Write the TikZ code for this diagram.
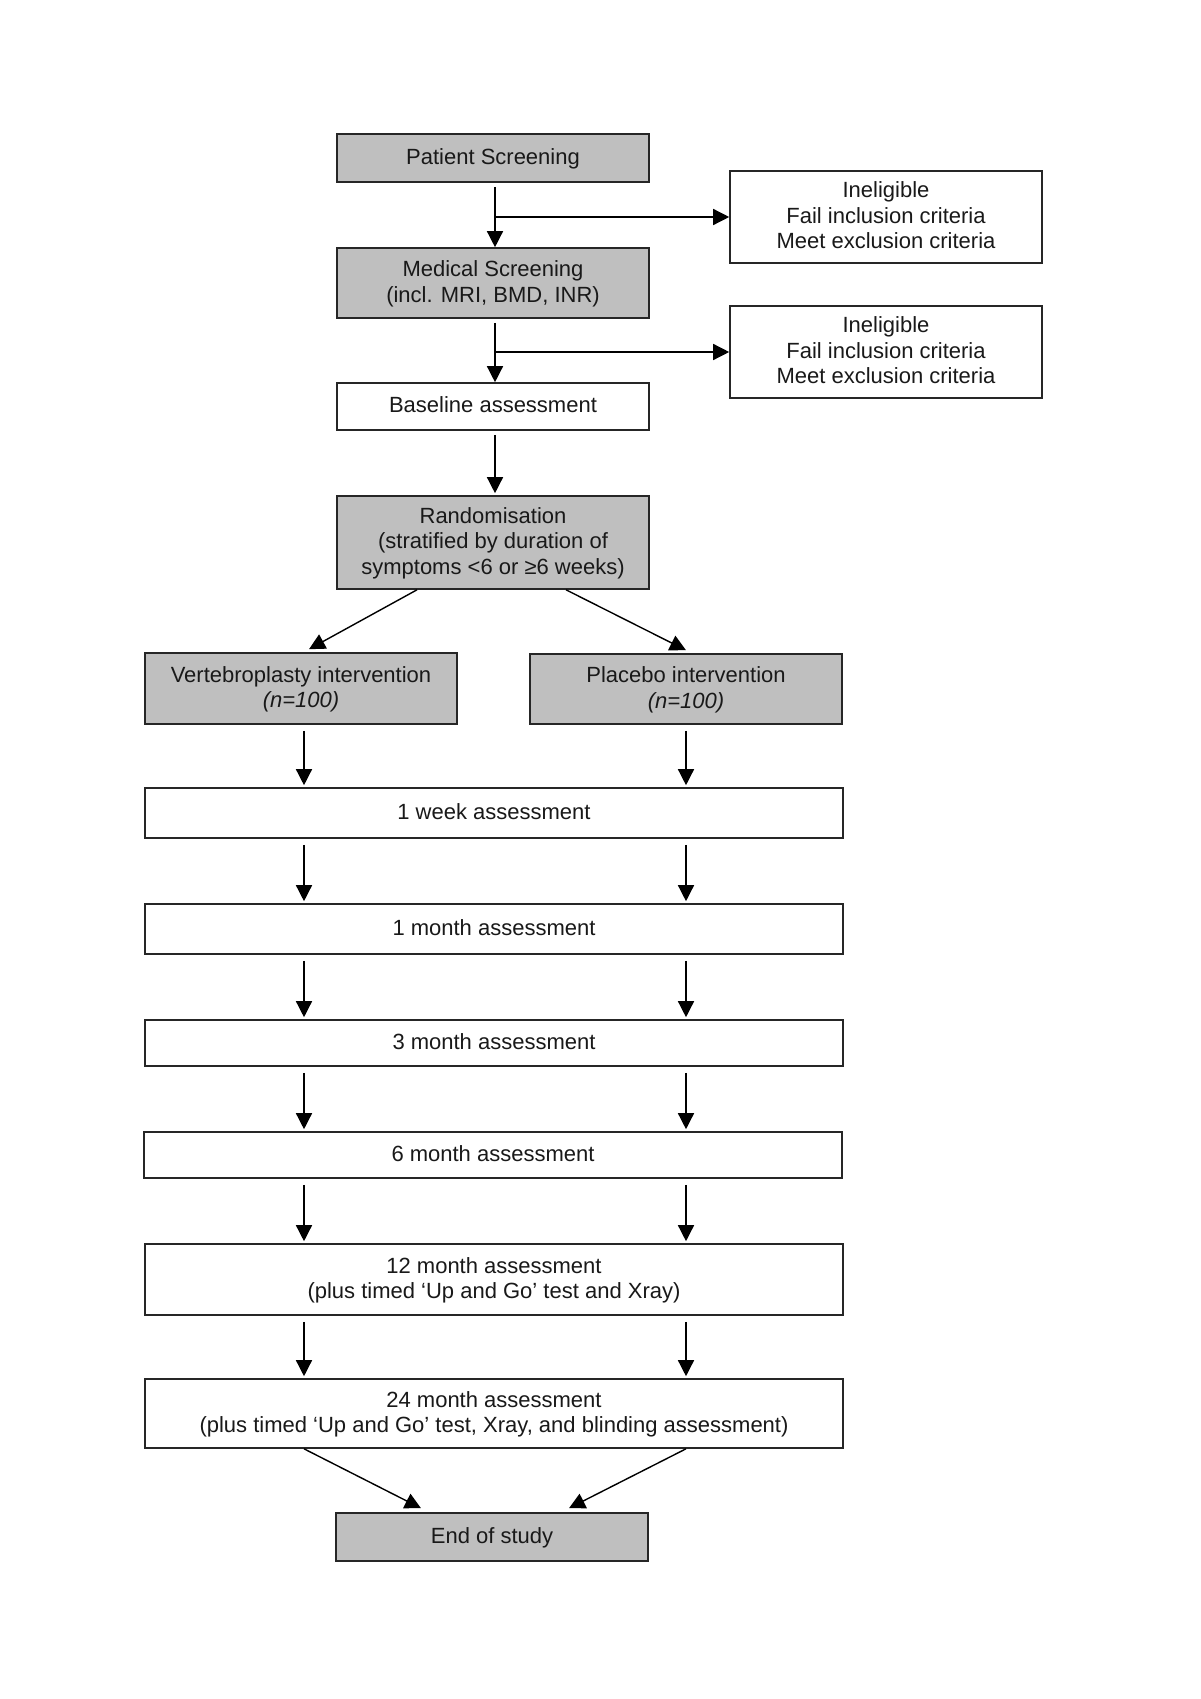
\documentclass[tikz,border=0pt]{standalone}
\usepackage{fontspec}
\setmainfont{Liberation Sans}
\usetikzlibrary{arrows.meta,calc}
\begin{document}
\begin{tikzpicture}[x=1pt,y=-1pt,
  box/.style={draw=black!85,line width=1.6pt,align=center,inner sep=0pt,
    font=\fontsize{22}{25.5}\selectfont,text=black!90,text depth=3pt},
  narrow/.style={box,minimum width=312pt},
  wide/.style={box,minimum width=698pt},
  grey/.style={fill=black!25},
  arr/.style={line width=1.4pt,-{Triangle[length=16pt,width=16pt]}}]
\useasboundingbox[fill=white] (0,0) rectangle (1200,1699);
\node[narrow,grey,minimum height=48pt] (ps) at (493,158) {Patient Screening};
\node[narrow,minimum height=92pt] (in1) at (886,217) {Ineligible\\Fail inclusion criteria\\Meet exclusion criteria};
\node[narrow,grey,minimum height=70pt] (ms) at (493,283) {Medical Screening\\(incl. MRI, BMD, INR)};
\node[narrow,minimum height=92pt] (in2) at (886,352) {Ineligible\\Fail inclusion criteria\\Meet exclusion criteria};
\node[narrow,minimum height=47pt] (ba) at (493,406.5) {Baseline assessment};
\node[narrow,grey,minimum height=93pt] (ra) at (493,542.5) {Randomisation\\(stratified by duration of\\symptoms {<}6 or ≥6 weeks)};
\node[narrow,grey,minimum height=71pt] (ve) at (301,688.5) {Vertebroplasty intervention\\\textit{(n=100)}};
\node[narrow,grey,minimum height=70pt] (pl) at (686,689) {Placebo intervention\\\textit{(n=100)}};
\node[wide,minimum height=50pt] (w1) at (494,813) {1 week assessment};
\node[wide,minimum height=50pt] (m1) at (494,929) {1 month assessment};
\node[wide,minimum height=46pt] (m3) at (494,1043) {3 month assessment};
\node[wide,minimum height=46pt] (m6) at (493,1155) {6 month assessment};
\node[wide,minimum height=71pt] (m12) at (494,1279.5) {12 month assessment\\(plus timed ‘Up and Go’ test and Xray)};
\node[wide,minimum height=69pt] (m24) at (494,1413.5) {24 month assessment\\(plus timed ‘Up and Go’ test, Xray, and blinding assessment)};
\node[narrow,grey,minimum height=48pt] (end) at (492,1537) {End of study};
\coordinate (L) at (304,0);
\coordinate (R) at (686,0);
\coordinate (C) at (495,0);
% top chain
\draw[arr,shorten <=4pt] (ps.south -| C) -- (ms.north -| C);
\draw[arr] (C |- in1.west) -- (in1.west);
\draw[arr,shorten <=4pt] (ms.south -| C) -- (ba.north -| C);
\draw[arr] (C |- in2.west) -- (in2.west);
\draw[arr,shorten <=4pt,shorten >=2pt] (ba.south -| C) -- (ra.north -| C);
% randomisation split
\draw[arr] ([xshift=-76pt]ra.south) -- ([xshift=8pt,yshift=3pt]ve.north);
\draw[arr] ([xshift=73pt]ra.south) -- ([yshift=3pt]pl.north);
% parallel arms
\foreach \a/\b in {ve/w1,w1/m1,m1/m3,m3/m6,m6/m12,m12/m24}{
  \draw[arr,shorten <=6pt,shorten >=2pt] (\a.south -| L) -- (\b.north -| L);
}
\foreach \a/\b in {pl/w1,w1/m1,m1/m3,m3/m6,m6/m12,m12/m24}{
  \draw[arr,shorten <=6pt,shorten >=2pt] (\a.south -| R) -- (\b.north -| R);
}
% end
\draw[arr] (m24.south -| L) -- ([xshift=-71pt,yshift=4pt]end.north);
\draw[arr] (m24.south -| R) -- ([xshift=77pt,yshift=4pt]end.north);
\end{tikzpicture}
\end{document}
